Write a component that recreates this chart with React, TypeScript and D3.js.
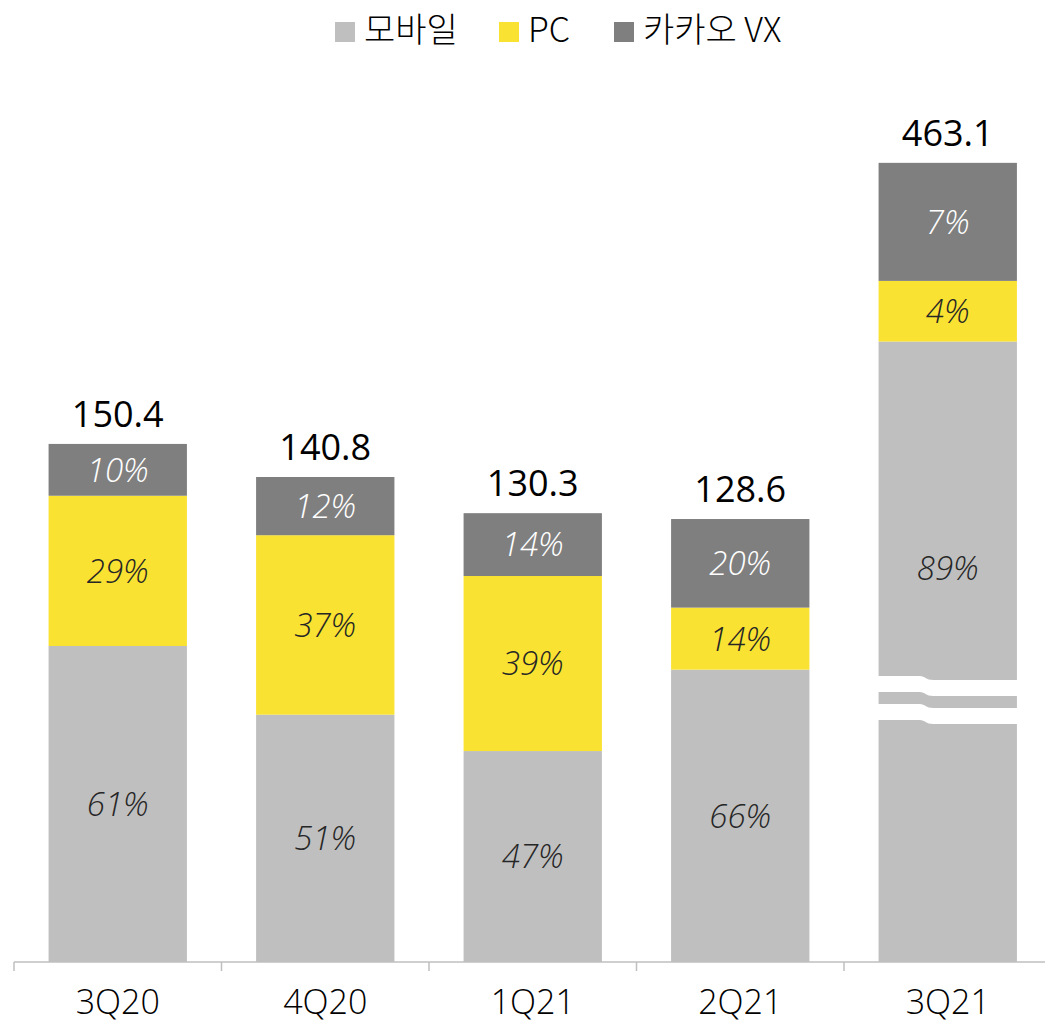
import React from 'react';
import * as d3 from 'd3';

const categories = ['3Q20', '4Q20', '1Q21', '2Q21', '3Q21'];
const totals = [150.4, 140.8, 130.3, 128.6, 463.1];
const mobileShare = [61, 51, 47, 66, 88.8];
const pcShare = [29, 37, 39, 14, 3.8];
const vxShare = [10, 12, 14, 20, 7.4];
const seriesNames = ['모바일', 'PC', '카카오 VX'];
const seriesColors = ['#bfbfbf', '#f9e231', '#7f7f7f'];
const labelColors = ['#262626', '#262626', '#ffffff'];
const brokenCategory = '3Q21';
const brokenDrawnTotal = 232; // value-units height drawn for the broken bar
const breakValue = 83; // where the break marks start (drawn units)

const W = 1045;
const H = 1023;
const FONT = "'Open Sans', 'Noto Sans', 'Noto Sans CJK KR', sans-serif";
const KFONT = "'Noto Sans CJK KR', 'Open Sans', sans-serif";

export default function App() {
  const x = d3
    .scaleBand<string>()
    .domain(categories)
    .range([14, 1051.5])
    .paddingInner(1 / 3)
    .paddingOuter(1 / 6);
  const y = d3.scaleLinear().domain([0, 250]).range([962, 962 - 250 * 3.4446]);
  const bw = x.bandwidth();
  const step = x.step();

  const shares = [mobileShare, pcShare, vxShare];

  const bars = categories.map((c, i) => {
    const total = totals[i];
    const broken = c === brokenCategory;
    const vals = shares.map((s) => (total * s[i]) / 100);
    let drawn = vals.slice();
    if (broken) {
      drawn = [brokenDrawnTotal - vals[1] - vals[2], vals[1], vals[2]];
    }
    let acc = 0;
    const segs = drawn.map((v, k) => {
      const y0 = acc;
      acc += v;
      return { k, y0, y1: acc, share: shares[k][i] };
    });
    return { c, i, total, broken, segs, top: acc };
  });

  const breakPath = (x0: number, x1: number, yTop: number, thick: number) => {
    const w = x1 - x0;
    const edge = (yy: number) =>
      `L ${x0 + 0.3 * w} ${yy} C ${x0 + 0.34 * w} ${yy} ${x0 + 0.34 * w} ${yy + 4} ${x0 + 0.4 * w} ${yy + 4} L ${x1} ${yy + 4}`;
    const yb = yTop + thick;
    return `M ${x0} ${yTop} ${edge(yTop)} L ${x1} ${yb + 4} L ${x0 + 0.4 * w} ${yb + 4} C ${x0 + 0.34 * w} ${yb + 4} ${x0 + 0.34 * w} ${yb} ${x0 + 0.3 * w} ${yb} L ${x0} ${yb} Z`;
  };

  const legendSquareX = [335, 499, 614];

  return (
    <svg
      width={W}
      height={H}
      style={{ position: 'absolute', left: 0, top: 0, background: '#fff' }}
    >
      {/* legend */}
      {seriesNames.map((n, k) => (
        <g key={n}>
          <rect x={legendSquareX[k]} y={22} width={20} height={20} fill={seriesColors[k]} />
          <text
            x={legendSquareX[k] + 29}
            y={42}
            fontSize={34}
            fontFamily={KFONT}
            fontWeight={300}
            fill="#000"
          >
            {n}
          </text>
        </g>
      ))}

      {/* bars */}
      {bars.map((b) => {
        const bx = x(b.c) as number;
        return (
          <g key={b.c}>
            {b.segs.map((s) => (
              <rect
                key={s.k}
                x={bx}
                y={y(s.y1)}
                width={bw}
                height={y(s.y0) - y(s.y1)}
                fill={seriesColors[s.k]}
              />
            ))}
            {b.broken && (
              <g fill="#fff">
                <path d={breakPath(bx - 1, bx + bw + 1, y(breakValue), 16)} />
                <path d={breakPath(bx - 1, bx + bw + 1, y(breakValue) + 28, 16)} />
              </g>
            )}
            {b.segs.map((s) => {
              const top = y(s.y1);
              const bot = y(s.y0);
              const cy = b.broken && s.k === 0 ? top + 0.365 * (bot - top) : (top + bot) / 2;
              return (
                <text
                  key={'l' + s.k}
                  x={bx + bw / 2}
                  y={cy}
                  dy="0.36em"
                  textAnchor="middle"
                  fontSize={33}
                  fontStyle="italic"
                  fontWeight={300}
                  fontFamily={FONT}
                  fill={labelColors[s.k]}
                >
                  {Math.round(s.share)}%
                </text>
              );
            })}
            <text
              x={bx + bw / 2}
              y={y(b.top) - 17}
              textAnchor="middle"
              fontSize={36}
              fontWeight={400}
              fontFamily={FONT}
              fill="#000"
            >
              {b.total.toFixed(1)}
            </text>
          </g>
        );
      })}

      {/* axis */}
      <line x1={14} x2={W} y1={962} y2={962} stroke="#bfbfbf" strokeWidth={1.5} />
      {categories.map((c) => {
        const tx = (x(c) as number) - (step - bw) / 2;
        return (
          <line key={'t' + c} x1={tx} x2={tx} y1={962} y2={971} stroke="#bfbfbf" strokeWidth={1.5} />
        );
      })}
      {categories.map((c) => (
        <text
          key={'x' + c}
          x={(x(c) as number) + bw / 2}
          y={1014}
          textAnchor="middle"
          fontSize={34}
          fontWeight={300}
          fontFamily={FONT}
          fill="#000"
        >
          {c}
        </text>
      ))}
    </svg>
  );
}
